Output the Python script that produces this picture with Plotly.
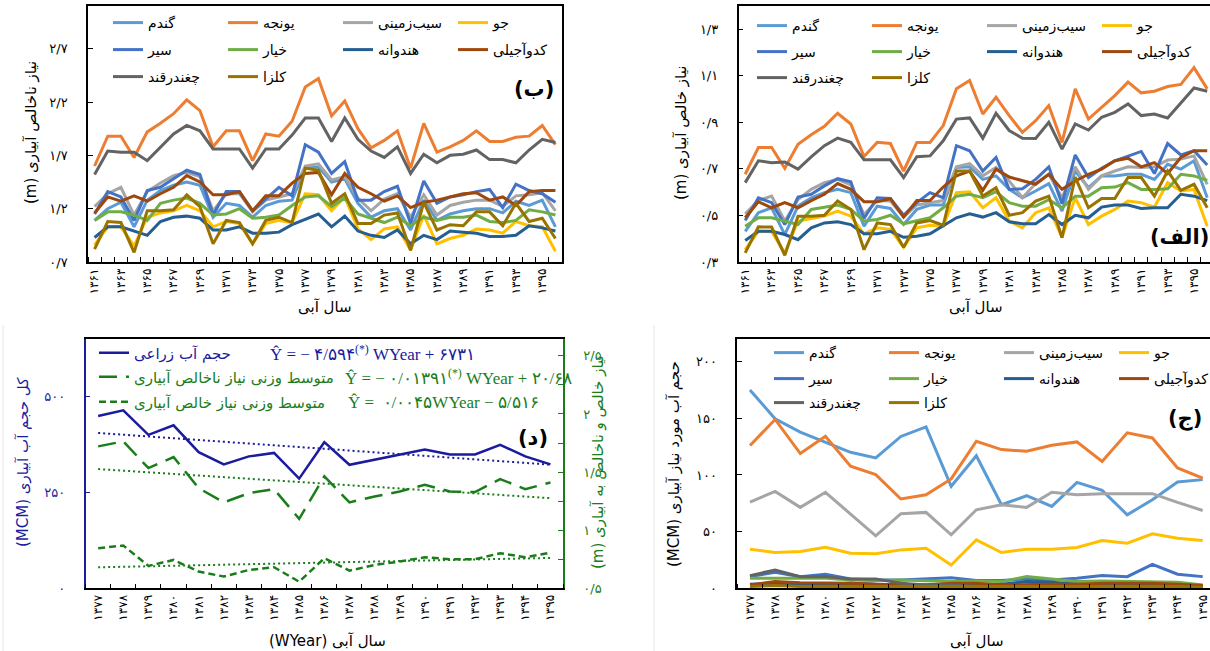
import plotly.graph_objects as go

# ---------------- data ----------------
years_a = list(range(1361, 1397))   # panels الف / ب
years_b = list(range(1377, 1396))   # panels ج / د

crops = ["گندم", "یونجه", "سیب‌زمینی", "جو", "سیر", "خیار", "هندوانه", "کدوآجیلی", "چغندرقند", "کلزا"]
colors = ["#5B9BD5", "#ED7D31", "#A5A5A5", "#FFC000", "#4472C4", "#70AD47", "#255E91", "#9E480E", "#636363", "#997300"]

# (ب) gross irrigation need (m)
wheat_g = [1.09,1.20,1.26,1.03,1.28,1.37,1.42,1.45,1.42,1.12,1.25,1.23,1.12,1.23,1.27,1.28,1.58,1.59,1.45,1.48,1.25,1.12,1.18,1.20,1.00,1.28,1.09,1.15,1.18,1.20,1.20,1.16,1.27,1.23,1.28,1.03]
alfalfa_g = [1.60,1.88,1.88,1.68,1.92,2.00,2.09,2.22,2.12,1.78,1.93,1.93,1.65,1.90,1.88,2.02,2.34,2.42,2.07,2.21,1.95,1.77,1.84,1.93,1.58,2.00,1.73,1.78,1.84,1.93,1.83,1.83,1.87,1.88,1.98,1.80]
potato_g = [1.22,1.34,1.40,1.14,1.36,1.44,1.51,1.54,1.50,1.18,1.34,1.34,1.17,1.28,1.31,1.34,1.60,1.62,1.47,1.50,1.30,1.18,1.29,1.34,1.12,1.33,1.14,1.23,1.26,1.28,1.28,1.22,1.32,1.33,1.35,1.18]
barley_g = [0.86,1.03,1.03,0.85,1.12,1.16,1.18,1.23,1.18,1.03,1.08,1.06,0.87,1.06,1.09,1.07,1.34,1.33,1.18,1.31,1.01,0.91,1.01,1.03,0.81,1.14,0.87,0.92,0.95,1.01,1.00,0.97,1.08,1.04,1.03,0.80]
garlic_g = [1.15,1.36,1.31,1.09,1.37,1.40,1.48,1.56,1.52,1.14,1.36,1.36,1.18,1.29,1.40,1.32,1.80,1.73,1.53,1.64,1.28,1.28,1.36,1.41,1.06,1.46,1.25,1.31,1.33,1.36,1.38,1.21,1.43,1.37,1.34,1.26]
cucumber_g = [1.09,1.17,1.17,1.14,1.09,1.25,1.28,1.30,1.25,1.14,1.15,1.20,1.11,1.12,1.14,1.23,1.31,1.32,1.22,1.30,1.15,1.11,1.07,1.12,1.04,1.12,1.09,1.12,1.12,1.14,1.08,1.07,1.09,1.19,1.17,1.14]
watermelon_g = [0.93,1.03,1.03,0.99,0.95,1.08,1.12,1.13,1.11,1.00,1.00,1.03,0.97,0.97,0.98,1.05,1.10,1.15,1.03,1.13,0.99,0.95,0.93,1.00,0.87,0.95,0.91,0.99,0.98,0.97,0.94,0.94,0.95,1.04,1.02,0.99]
squash_g = [1.16,1.31,1.27,1.32,1.27,1.34,1.40,1.51,1.45,1.33,1.33,1.36,1.18,1.32,1.32,1.44,1.53,1.54,1.33,1.53,1.40,1.34,1.27,1.32,1.21,1.26,1.28,1.31,1.34,1.35,1.28,1.31,1.23,1.36,1.37,1.37]
beet_g = [1.52,1.74,1.73,1.73,1.65,1.78,1.90,1.98,1.93,1.76,1.76,1.76,1.58,1.76,1.76,1.89,2.05,2.05,1.83,2.05,1.85,1.74,1.68,1.78,1.53,1.71,1.63,1.70,1.71,1.75,1.66,1.66,1.63,1.75,1.85,1.82]
canola_g = [0.82,1.08,1.07,0.79,1.18,1.18,1.19,1.33,1.22,0.87,1.09,1.07,0.87,1.09,1.12,1.07,1.58,1.56,1.25,1.34,1.06,1.06,1.14,1.16,0.81,1.26,1.00,1.05,1.04,1.17,1.17,1.04,1.25,1.08,1.11,0.92]

# (الف) net irrigation need (m)
wheat_n = [0.432,0.512,0.533,0.418,0.540,0.576,0.598,0.612,0.598,0.454,0.540,0.530,0.461,0.526,0.545,0.545,0.706,0.709,0.655,0.670,0.612,0.576,0.605,0.637,0.519,0.691,0.620,0.670,0.670,0.677,0.677,0.655,0.720,0.699,0.735,0.576]
alfalfa_n = [0.677,0.792,0.792,0.703,0.806,0.847,0.883,0.939,0.893,0.753,0.814,0.809,0.691,0.814,0.814,0.886,1.044,1.080,0.936,1.008,0.929,0.857,0.907,0.972,0.814,1.044,0.914,0.965,1.015,1.073,1.027,1.034,1.054,1.063,1.135,1.044]
potato_n = [0.507,0.564,0.583,0.476,0.568,0.612,0.641,0.655,0.631,0.504,0.564,0.562,0.493,0.545,0.555,0.564,0.709,0.723,0.670,0.706,0.648,0.576,0.637,0.677,0.576,0.709,0.612,0.670,0.691,0.709,0.706,0.709,0.738,0.742,0.756,0.634]
barley_n = [0.353,0.432,0.430,0.339,0.476,0.487,0.497,0.519,0.497,0.421,0.447,0.440,0.363,0.447,0.458,0.454,0.598,0.602,0.533,0.576,0.476,0.447,0.512,0.533,0.406,0.576,0.461,0.497,0.526,0.562,0.555,0.536,0.641,0.605,0.612,0.454]
garlic_n = [0.478,0.576,0.555,0.461,0.579,0.591,0.627,0.658,0.645,0.487,0.576,0.573,0.501,0.555,0.598,0.576,0.800,0.778,0.691,0.749,0.612,0.615,0.655,0.709,0.550,0.760,0.663,0.703,0.735,0.756,0.775,0.680,0.809,0.760,0.778,0.717]
cucumber_n = [0.454,0.490,0.490,0.476,0.461,0.526,0.536,0.545,0.526,0.476,0.483,0.501,0.464,0.478,0.490,0.533,0.583,0.591,0.576,0.602,0.555,0.540,0.540,0.568,0.533,0.583,0.583,0.619,0.622,0.641,0.612,0.612,0.615,0.677,0.670,0.651]
watermelon_n = [0.392,0.432,0.432,0.418,0.396,0.447,0.468,0.473,0.461,0.421,0.421,0.432,0.406,0.411,0.421,0.454,0.490,0.507,0.493,0.512,0.473,0.464,0.464,0.504,0.461,0.501,0.490,0.536,0.545,0.545,0.530,0.533,0.533,0.591,0.583,0.564]
squash_n = [0.490,0.559,0.533,0.555,0.533,0.564,0.591,0.637,0.612,0.559,0.559,0.572,0.493,0.564,0.564,0.622,0.670,0.691,0.608,0.699,0.665,0.648,0.634,0.677,0.612,0.648,0.677,0.699,0.735,0.746,0.709,0.727,0.680,0.749,0.778,0.778]
beet_n = [0.641,0.735,0.727,0.730,0.699,0.752,0.800,0.832,0.814,0.739,0.739,0.739,0.663,0.752,0.756,0.821,0.914,0.919,0.832,0.939,0.865,0.832,0.831,0.900,0.785,0.893,0.867,0.922,0.943,0.979,0.929,0.936,0.919,0.986,1.048,1.034]
canola_n = [0.339,0.451,0.450,0.329,0.497,0.497,0.501,0.562,0.526,0.353,0.468,0.461,0.363,0.468,0.478,0.458,0.691,0.691,0.583,0.619,0.501,0.512,0.562,0.583,0.404,0.665,0.533,0.573,0.573,0.663,0.663,0.583,0.691,0.608,0.634,0.533]

# (ج) irrigation water volume per crop (MCM)
wheat_v = [175,149.6,137.8,128.9,120,115,134,142.5,90,117,73.7,81.7,72.3,93.5,86.4,64.9,78.2,93.8,95.9]
alfalfa_v = [126,149,118.9,134.2,107.7,100.3,78.8,82.6,96.5,129.8,122.4,121,126.3,129.2,112,137.2,132.7,106.2,97.3]
potato_v = [76.1,85.5,71.4,84.7,65.5,46.3,65.8,67,47.2,69.3,73.7,71.4,84.7,82.6,83.5,83.5,83.5,75.8,68.7]
barley_v = [34.5,31.6,32.4,36.3,31,30.4,33.9,35.4,20.6,42.8,31.6,34.5,34.5,36,42.2,39.8,48.1,44.2,42.2]
garlic_v = [10.3,14.2,10.3,12.4,8.3,7.4,7.4,8.3,9.4,6.8,6.8,8.3,7.4,8.8,11.2,10.3,21.2,12.4,10.3]
cucumber_v = [8.8,8.8,8.3,8.8,7.4,6.8,7.4,6.5,5.9,6.5,5.9,10.3,8.3,5.9,6.5,5.9,5.9,5.3,3.0]
watermelon_v = [3.5,4.4,3.5,3.5,4.4,3.5,3.0,3.0,3.5,3.0,3.5,5.9,5.3,3.5,3.0,3.0,3.0,3.0,1.5]
squash_v = [3.0,5.9,5.0,5.0,4.4,3.5,3.0,3.0,4.4,4.4,3.0,3.5,3.5,3.5,4.4,4.4,4.4,3.5,2.4]
beet_v = [11.2,16.2,10.3,10.3,8.3,8.3,4.4,3.0,3.0,1.5,0.3,0.3,0.3,0.3,0.3,0.3,0.3,0.3,0.3]
canola_v = [1.5,2.4,1.5,1.5,1.5,1.5,1.5,1.5,2.0,2.0,1.5,1.5,1.5,1.5,1.5,2.0,2.0,1.5,1.0]

# (د) total volume and weighted needs
water_vol = [449,464,400,425,355,323,344,353,286,381,322,335,347,362,349,349,374,344,323]
gross_w = [1.721,1.764,1.534,1.629,1.362,1.239,1.319,1.353,1.098,1.463,1.239,1.290,1.333,1.391,1.333,1.328,1.440,1.353,1.411]
net_w = [0.845,0.868,0.693,0.744,0.644,0.601,0.658,0.681,0.557,0.759,0.652,0.701,0.730,0.767,0.750,0.750,0.802,0.767,0.807]
# regression (slope, intercept) printed on the chart
trend_vol = (-4.594, 6731)
trend_gross = (-0.01391, 20.68)
trend_net = (0.0045, -5.516)

# tick values
ticks_b = [0.7, 1.2, 1.7, 2.2, 2.7]
ticks_a = [0.3, 0.5, 0.7, 0.9, 1.1, 1.3]
ticks_c = [0, 50, 100, 150, 200]
ticks_d_left = [0, 250, 500]
ticks_d_right = [0.5, 1, 1.5, 2, 2.5]

gross = [wheat_g, alfalfa_g, potato_g, barley_g, garlic_g, cucumber_g, watermelon_g, squash_g, beet_g, canola_g]
net = [wheat_n, alfalfa_n, potato_n, barley_n, garlic_n, cucumber_n, watermelon_n, squash_n, beet_n, canola_n]
vol = [wheat_v, alfalfa_v, potato_v, barley_v, garlic_v, cucumber_v, watermelon_v, squash_v, beet_v, canola_v]

# ---------------- helpers ----------------
W, H = 1210, 651
FA = str.maketrans("0123456789.", "۰۱۲۳۴۵۶۷۸۹/")


def fa(v):
    s = ("%g" % v)
    return s.translate(FA)


def rtl(s):
    return "\u202b" + s + "\u202c"


def px(x):
    return x / W


def py(y):
    return 1 - y / H


BLUE = "#1b1b9e"
GREEN = "#1a7d1a"
FONT = "DejaVu Sans"
SERIF = "Liberation Serif"

fig = go.Figure()

# top-left (ب) and top-right (الف)
for i in range(10):
    row = i // 4
    fig.add_trace(go.Scatter(x=years_a, y=gross[i], mode="lines", name=crops[i],
                             line=dict(color=colors[i], width=3),
                             xaxis="x", yaxis="y", legend=["legend", "legend2", "legend3"][row]))
for i in range(10):
    row = i // 4
    fig.add_trace(go.Scatter(x=years_a, y=net[i], mode="lines", name=crops[i],
                             line=dict(color=colors[i], width=3),
                             xaxis="x2", yaxis="y2", legend=["legend4", "legend5", "legend6"][row]))
# bottom-right (ج)
for i in range(10):
    row = i // 4
    fig.add_trace(go.Scatter(x=years_b, y=vol[i], mode="lines", name=crops[i],
                             line=dict(color=colors[i], width=3),
                             xaxis="x4", yaxis="y5", legend=["legend7", "legend8", "legend9"][row]))

# bottom-left (د)
def trend(coef):
    return [coef[0] * y + coef[1] for y in years_b]

fig.add_trace(go.Scatter(x=years_b, y=trend(trend_vol), mode="lines", showlegend=False,
                         line=dict(color=BLUE, width=2, dash="2px,3px"), xaxis="x3", yaxis="y3"))
fig.add_trace(go.Scatter(x=years_b, y=trend(trend_gross), mode="lines", showlegend=False,
                         line=dict(color=GREEN, width=2, dash="2px,3px"), xaxis="x3", yaxis="y4"))
fig.add_trace(go.Scatter(x=years_b, y=trend(trend_net), mode="lines", showlegend=False,
                         line=dict(color=GREEN, width=2, dash="2px,3px"), xaxis="x3", yaxis="y4"))
fig.add_trace(go.Scatter(x=years_b, y=water_vol, mode="lines", name="حجم آب زراعی",
                         line=dict(color=BLUE, width=2.5), xaxis="x3", yaxis="y3", legend="legend10"))
fig.add_trace(go.Scatter(x=years_b, y=gross_w, mode="lines", name="متوسط وزنی نیاز ناخالص آبیاری",
                         line=dict(color=GREEN, width=2.5, dash="18px,9px"), xaxis="x3", yaxis="y4", legend="legend11"))
fig.add_trace(go.Scatter(x=years_b, y=net_w, mode="lines", name="متوسط وزنی نیاز خالص آبیاری",
                         line=dict(color=GREEN, width=2.5, dash="7px,4px"), xaxis="x3", yaxis="y4", legend="legend12"))


def xaxis(dom, rng, vals, anchor, step):
    shown = vals[::step]
    bounds = [v - 0.5 for v in vals] + [vals[-1] + 0.5]
    return dict(domain=dom, range=rng, anchor=anchor, tickmode="array", tickvals=shown,
                ticktext=[fa(v) for v in shown], tickangle=-90, ticks="", showgrid=False,
                zeroline=False, showline=True, mirror=True, linecolor="black", linewidth=1.5,
                tickfont=dict(size=12, family=FONT, color="black"),
                minor=dict(tickmode="array", tickvals=bounds, ticks="inside", ticklen=5,
                           tickwidth=1, tickcolor="black", showgrid=False))


def yaxis(dom, rng, vals, anchor, color="black", mirror=True, side="left", overlaying=None, minor=None):
    d = dict(domain=dom, range=rng, anchor=anchor, tickmode="array", tickvals=vals,
             ticktext=[fa(v) for v in vals], ticks="inside", ticklen=5, tickcolor=color,
             showgrid=False, zeroline=False, showline=True, mirror=mirror, linecolor=color,
             linewidth=1.5, side=side, ticklabelstandoff=16,
             tickfont=dict(size=13, family=FONT, color=color))
    if overlaying:
        d["overlaying"] = overlaying
    if minor:
        d["minor"] = minor
    return d


top = [py(262), py(6)]
bot = [py(588.3), py(339)]

layout = dict(
    width=W, height=H, margin=dict(l=0, r=0, t=0, b=0, autoexpand=False),
    paper_bgcolor="white", plot_bgcolor="white",
    font=dict(family=FONT, size=13, color="black"),
    xaxis=xaxis([px(88), px(562)], [1360.5, 1396.5], years_a, "y", 2),
    yaxis=yaxis(top, [0.7, 3.1], ticks_b, "x"),
    xaxis2=xaxis([px(738.6), 1.0], [1360.5, 1396.21], years_a, "y2", 2),
    yaxis2=yaxis(top, [0.3, 1.4], ticks_a, "x2"),
    xaxis3=xaxis([px(85.6), px(563)], [1376.5, 1395.5], years_b, "y3", 1),
    yaxis3=yaxis(bot, [0, 650], ticks_d_left, "x3", color=BLUE, mirror=False),
    yaxis4=yaxis(bot, [0.5, 2.645], ticks_d_right, "x3", color=GREEN, mirror=False, side="right",
                 overlaying="y3", minor=dict(dtick=0.25, tick0=0.5, ticks="inside", ticklen=5,
                                              tickcolor=GREEN, showgrid=False)),
    xaxis4=xaxis([px(737.4), 1.0], [1376.5, 1395.29], years_b, "y5", 1),
    yaxis5=yaxis(bot, [0, 220], ticks_c, "x4"),
)

# legends: one per row so the row spacing can follow the reference
def leg(x, y, color="black", size=14, ew=70):
    d = dict(orientation="h", x=px(x), y=py(y), xanchor="left", yanchor="middle",
             bgcolor="rgba(0,0,0,0)", borderwidth=0,
             font=dict(size=size, color=color, family=FONT), itemclick=False, itemdoubleclick=False)
    if ew:
        d["entrywidth"] = ew
        d["entrywidthmode"] = "pixels"
    return d

layout["legend"] = leg(108, 23)
layout["legend2"] = leg(108, 50)
layout["legend3"] = leg(108, 77)
layout["legend4"] = leg(752, 26)
layout["legend5"] = leg(752, 52)
layout["legend6"] = leg(752, 78)
layout["legend7"] = leg(769, 353)
layout["legend8"] = leg(769, 379)
layout["legend9"] = leg(769, 403)
layout["legend10"] = leg(94, 353, BLUE, 15, 0)
layout["legend11"] = leg(94, 377, GREEN, 15, 0)
layout["legend12"] = leg(94, 402, GREEN, 15, 0)

fig.update_layout(**layout)

ann = []
def text(x, y, s, size=15, color="black", angle=0, family=FONT, bold=False, xanchor="center"):
    if bold:
        s = "<b>" + s + "</b>"
    ann.append(dict(x=px(x), y=py(y), xref="paper", yref="paper", text=s, showarrow=False,
                    font=dict(size=size, color=color, family=family), textangle=angle,
                    xanchor=xanchor, yanchor="middle"))

# axis titles
text(31, 133, rtl("نیاز ناخالص آبیاری (m)"), 15, angle=-90)
text(681, 133, rtl("نیاز خالص آبیاری (m)"), 15, angle=-90)
text(325, 307, "سال آبی", 15)
text(976, 307, "سال آبی", 15)
text(23, 462, rtl("کل حجم آب آبیاری (MCM)"), 15, BLUE, -90)
text(598, 462, rtl("نیاز خالص و ناخالص به آبیاری (m)"), 15, GREEN, -90)
text(674, 464, rtl("حجم آب مورد نیاز آبیاری (MCM)"), 15, angle=-90)
text(327, 641, rtl("سال آبی (WYear)"), 15)
text(977, 641, "سال آبی", 15)
# panel labels
text(534, 89, "(ب)", 21, bold=True)
text(1179, 237, "(الف)", 21, bold=True)
text(533, 438, "(د)", 21, bold=True)
text(1185, 419, "(ج)", 21, bold=True)
# regression equations
text(268, 353, "Ŷ = − ۴/۵۹۴<sup>(*)</sup> WYear + ۶۷۳۱", 17, BLUE, family=SERIF, xanchor="left")
text(343, 377, "Ŷ = − ۰/۰۱۳۹۱<sup>(*)</sup> WYear + ۲۰/۶۸", 17, GREEN, family=SERIF, xanchor="left")
text(346, 402, "Ŷ =  ۰/۰۰۴۵WYear − ۵/۵۱۶", 17, GREEN, family=SERIF, xanchor="left")

fig.update_layout(annotations=ann)

# faint frame lines of the source image
fig.add_shape(type="line", xref="paper", yref="paper", x0=px(3), x1=px(3), y0=0, y1=py(325),
              line=dict(color="#e6e6e6", width=1))
fig.add_shape(type="line", xref="paper", yref="paper", x0=px(654), x1=px(654), y0=0, y1=py(325),
              line=dict(color="#e6e6e6", width=1))

fig.write_html("out.html")
